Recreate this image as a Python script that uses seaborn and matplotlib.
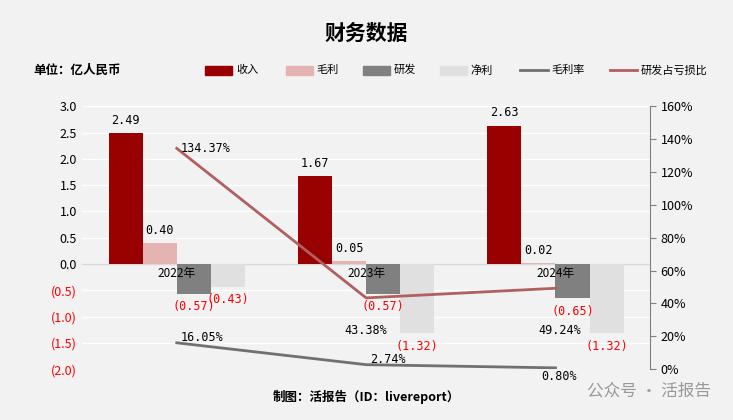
import matplotlib
matplotlib.use("Agg")
import matplotlib.pyplot as plt
import seaborn as sns
import pandas as pd

plt.rcParams['font.family'] = ['Noto Sans CJK SC', 'DejaVu Sans']

years = ["2022年", "2023年", "2024年"]
revenue = [2.49, 1.67, 2.63]
gross = [0.40, 0.05, 0.02]
rnd = [-0.57, -0.57, -0.65]
net = [-0.43, -1.32, -1.32]
gross_margin = [16.05, 2.74, 0.80]
rnd_loss_ratio = [134.37, 43.38, 49.24]
series = ["收入", "毛利", "研发", "净利"]
colors = ["#990000", "#e6b3b3", "#808080", "#e0e0e0"]

rows = []
for name, vals in zip(series, [revenue, gross, rnd, net]):
    for y, v in zip(years, vals):
        rows.append({"year": y, "series": name, "value": v})
df = pd.DataFrame(rows)

mono = "DejaVu Sans Mono"
bg = "#f2f2f2"
fig = plt.figure(figsize=(7.33, 4.2), dpi=100, facecolor=bg)
ax = fig.add_axes([0.112, 0.121, 0.775, 0.626])
ax.set_facecolor(bg)
sns.barplot(data=df, x="year", y="value", hue="series", palette=colors,
            width=0.72, ax=ax, legend=False, saturation=1, zorder=2)
ax.set_ylim(-2.0, 3.0)
ax.set_xlim(-0.5, 2.5)
ticks = [3.0, 2.5, 2.0, 1.5, 1.0, 0.5, 0.0, -0.5, -1.0, -1.5, -2.0]
ax.set_yticks(ticks)
ax.grid(axis="y", color="white", linewidth=1, zorder=0)
ax.set_axisbelow(True)
for s in ax.spines.values():
    s.set_visible(False)
ax.axhline(0, color="#d9d9d9", lw=1, zorder=1)
ax.set_xlabel(""); ax.set_ylabel("")
ax.set_xticks([])
labs = [f"({abs(t):.1f})" if t < 0 else f"{t:.1f}" for t in ticks]
ax.set_yticklabels(labs, fontsize=9)
for lab, t in zip(ax.get_yticklabels(), ticks):
    lab.set_color("red" if t < 0 else "black")
ax.tick_params(axis="y", length=0)

for i, y in enumerate(years):
    ax.text(i, -0.05, y, ha="center", va="top", fontsize=8.5)

for ci, cont in enumerate(ax.containers):
    for bar in cont:
        v = bar.get_height()
        x = bar.get_x() + bar.get_width() / 2
        if v >= 0:
            ax.text(x, v + 0.12, f"{v:.2f}", ha="center", va="bottom", fontsize=8.5, fontfamily=mono)
        else:
            ax.text(x, v - 0.12, f"({abs(v):.2f})", ha="center", va="top", fontsize=8.5, color="red", fontfamily=mono)

ax2 = ax.twinx()
ax2.set_ylim(0, 160)
ax2.set_yticks(range(0, 161, 20))
ax2.set_yticklabels([f"{t}%" for t in range(0, 161, 20)], fontsize=9)
for s in ax2.spines.values():
    s.set_visible(False)
ax2.spines["right"].set_visible(True)
ax2.spines["right"].set_color("#808080")
ax2.tick_params(axis="y", color="#808080", length=4)
sns.lineplot(x=[0, 1, 2], y=gross_margin, color="#707070", lw=2, ax=ax2, legend=False)
sns.lineplot(x=[0, 1, 2], y=rnd_loss_ratio, color="#b06060", lw=2, ax=ax2, legend=False)
for i, v in enumerate(gross_margin):
    ax2.text(i + 0.02, v - 1, f"{v:.2f}%", ha="left" if i < 2 else "center", va="bottom" if i < 2 else "top", fontsize=8.5, fontfamily=mono)
ax2.text(0.02, rnd_loss_ratio[0], f"{rnd_loss_ratio[0]:.2f}%", ha="left", va="center", fontsize=8.5, fontfamily=mono)
ax2.text(1.0, rnd_loss_ratio[1] - 16, f"{rnd_loss_ratio[1]:.2f}%", ha="center", va="top", fontsize=8.5, fontfamily=mono)
ax2.text(2.02, rnd_loss_ratio[2] - 22, f"{rnd_loss_ratio[2]:.2f}%", ha="center", va="top", fontsize=8.5, fontfamily=mono)
ax2.set_xlim(-0.5, 2.5)

fig.text(0.5, 0.92, "财务数据", ha="center", va="center", fontsize=15, fontweight="bold")
fig.text(0.045, 0.832, "单位：亿人民币", ha="left", va="center", fontsize=9, fontweight="bold")
lx = [0.28, 0.39, 0.495, 0.6]
for x, c, n in zip(lx, colors, series):
    fig.patches.append(plt.Rectangle((x, 0.822), 0.037, 0.022, color=c, transform=fig.transFigure))
    fig.text(x + 0.042, 0.833, n, fontsize=8, va="center")
for x, c, n in [(0.71, "#707070", "毛利率"), (0.832, "#b06060", "研发占亏损比")]:
    fig.lines.append(plt.Line2D([x, x + 0.037], [0.833, 0.833], color=c, lw=2, transform=fig.transFigure))
    fig.text(x + 0.042, 0.833, n, fontsize=8, va="center")
fig.text(0.5, 0.055, "制图：活报告（ID：livereport）", ha="center", va="center", fontsize=9, fontweight="bold")
fig.text(0.97, 0.07, "公众号 · 活报告", ha="right", va="center", fontsize=12, color="#999999")
fig.savefig("out.png", dpi=100, facecolor=bg)
